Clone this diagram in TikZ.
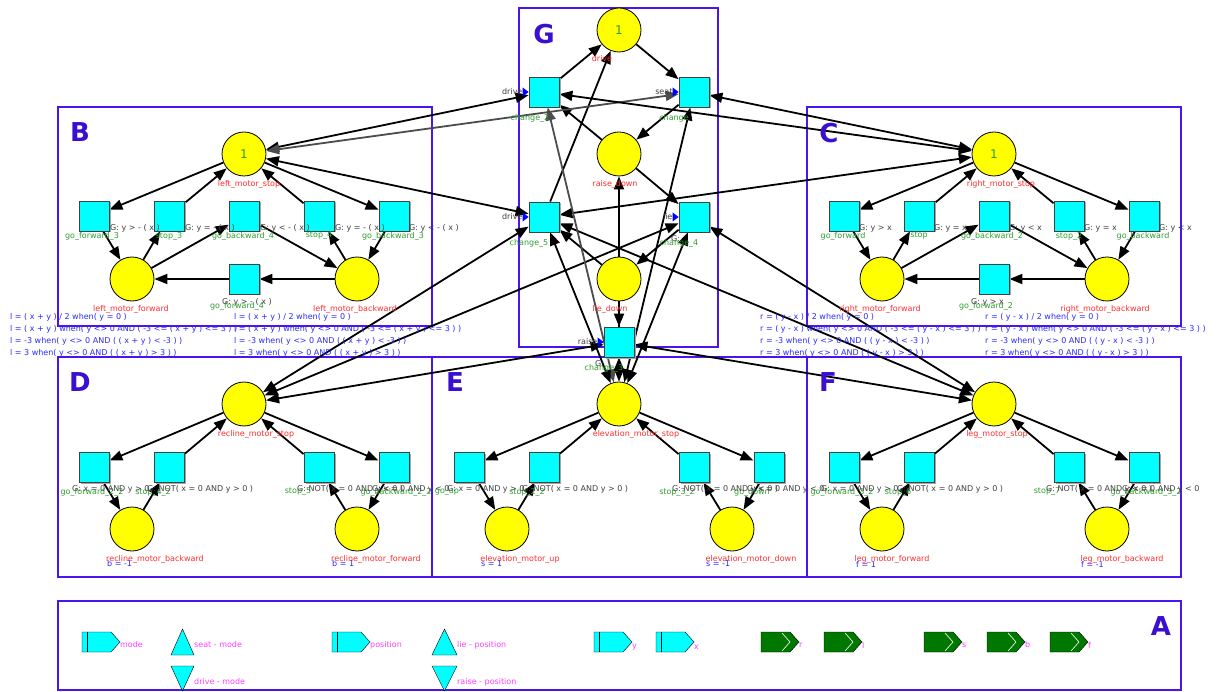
\documentclass[tikz,border=0pt]{standalone}
\usepackage{fontspec}
\setmainfont{DejaVu Sans}
\usepackage{tikz}
\usetikzlibrary{arrows.meta,backgrounds,shadows}

\definecolor{boxblue}{HTML}{4A14EE}
\definecolor{letterblue}{HTML}{3A0FD0}
\definecolor{tokgreen}{HTML}{2E9A2E}
\definecolor{namegreen}{HTML}{2F9F2F}
\definecolor{namered}{HTML}{FF2E2E}
\definecolor{formblue}{HTML}{2A2AFF}
\definecolor{legpink}{HTML}{FF40FF}
\definecolor{portgreen}{HTML}{007800}
\definecolor{transcyan}{HTML}{00FFFF}
\definecolor{placeyellow}{HTML}{FFFF00}
\definecolor{markblue}{HTML}{0000FF}

\tikzset{
  every node/.style={font=\fontsize{8}{9.6}\selectfont},
  place/.style={circle, draw=black, line width=0.8pt, fill=placeyellow, minimum size=44pt, inner sep=0pt, font=\fontsize{12}{12}\selectfont, text=tokgreen},
  trans/.style={rectangle, draw=black!75, line width=0.8pt, fill=transcyan, minimum size=30pt, inner sep=0pt,
    drop shadow={shadow xshift=1.5pt, shadow yshift=-1.5pt, fill=black!35, opacity=1}},
  pname/.style={text=namered, inner sep=0pt},
  tname/.style={text=namegreen, inner sep=0pt},
  guard/.style={text=black!75, anchor=west, inner sep=0pt},
  formula/.style={text=formblue, anchor=west, inner sep=0pt},
  legend/.style={text=legpink, anchor=west, inner sep=0pt},
  portname/.style={text=black!75, anchor=east, inner sep=0pt},
  region/.style={draw=boxblue, line width=2pt},
  boxletter/.style={text=letterblue, font=\fontsize{26}{26}\selectfont\bfseries, inner sep=0pt},
  arc/.style={-{Triangle[length=13pt,width=10pt]}, line width=1.8pt},
  readarc/.style={{Triangle[length=13pt,width=10pt]}-{Triangle[length=13pt,width=10pt]}, line width=1.8pt},
}

\begin{document}
\begin{tikzpicture}[x=1pt, y=-1pt]
      \useasboundingbox (0,0) rectangle (1220,692);

      \node[place] (drive) at (619,30) {1};
      \node[place] (raisedown) at (619,154) {};
      \node[place] (liedown) at (619,279) {};
      \node[trans] (change2) at (544,92) {};
      \node[trans] (change) at (694,92) {};
      \node[trans] (change5) at (544,217) {};
      \node[trans] (change4) at (694,217) {};
      \node[trans] (change3) at (619,342) {};

      \node[place] (lstop) at (244,154) {1};
      \node[place] (lfwd) at (132,279) {};
      \node[place] (lbwd) at (357,279) {};
      \node[trans] (gofwd3) at (94,216) {};
      \node[trans] (stop3) at (169,216) {};
      \node[trans] (gobwd4) at (244,216) {};
      \node[trans] (stop4) at (319,216) {};
      \node[trans] (gobwd3) at (394,216) {};
      \node[trans] (gofwd4) at (244,279) {};

      \node[place] (rstop) at (994,154) {1};
      \node[place] (rfwd) at (882,279) {};
      \node[place] (rbwd) at (1107,279) {};
      \node[trans] (gofwd) at (844,216) {};
      \node[trans] (stop1) at (919,216) {};
      \node[trans] (gobwd2) at (994,216) {};
      \node[trans] (stop2) at (1069,216) {};
      \node[trans] (gobwd) at (1144,216) {};
      \node[trans] (gofwd2) at (994,279) {};

      \node[place] (bstop) at (244,404) {};
      \node[place] (bbwd) at (132,529) {};
      \node[place] (bfwd) at (357,529) {};
      \node[trans] (gofwd22) at (94,467) {};
      \node[trans] (stop42) at (169,467) {};
      \node[trans] (stop5) at (319,467) {};
      \node[trans] (gobwd22) at (394,467) {};

      \node[place] (sstop) at (619,404) {};
      \node[place] (sup) at (507,529) {};
      \node[place] (sdown) at (732,529) {};
      \node[trans] (goup) at (469,467) {};
      \node[trans] (stop22) at (544,467) {};
      \node[trans] (stop32) at (694,467) {};
      \node[trans] (godown) at (769,467) {};

      \node[place] (fstop) at (994,404) {};
      \node[place] (ffwd) at (882,529) {};
      \node[place] (fbwd) at (1107,529) {};
      \node[trans] (gofwd32) at (844,467) {};
      \node[trans] (stop6) at (919,467) {};
      \node[trans] (stop7) at (1069,467) {};
      \node[trans] (gobwd32) at (1144,467) {};

      \fill[markblue] (change2.west) ++(-6,-4.5) -- ++(6,4.5) -- ++(-6,4.5) -- cycle;
      \fill[markblue] (change.west) ++(-6,-4.5) -- ++(6,4.5) -- ++(-6,4.5) -- cycle;
      \fill[markblue] (change5.west) ++(-6,-4.5) -- ++(6,4.5) -- ++(-6,4.5) -- cycle;
      \fill[markblue] (change4.west) ++(-6,-4.5) -- ++(6,4.5) -- ++(-6,4.5) -- cycle;
      \fill[markblue] (change3.west) ++(-6,-4.5) -- ++(6,4.5) -- ++(-6,4.5) -- cycle;
      \node[portname] (change2-p) at ([xshift=-6pt]change2.west) {drive};
      \node[portname] (change-p) at ([xshift=-6pt]change.west) {seat};
      \node[portname] (change5-p) at ([xshift=-6pt]change5.west) {drive};
      \node[portname] (change4-p) at ([xshift=-6pt]change4.west) {lie};
      \node[portname] (change3-p) at ([xshift=-6pt]change3.west) {raise};

      \node[pname] (drive-n) at (602,59) {drive};
      \node[pname] (raisedown-n) at (615,184) {raise\_down};
      \node[pname] (liedown-n) at (610,309) {lie\_down};
      \node[tname] (change2-n) at (530,118) {change\_2};
      \node[tname] (change-n) at (674,118) {change};
      \node[tname] (change5-n) at (529,243) {change\_5};
      \node[tname] (change4-n) at (679,243) {change\_4};
      \node[tname] (change3-n) at (604,368) {change\_3};
      \node[guard] (change4-g) at (671,239) {G:};
      \node[guard] (change3-g) at (595,364) {G:};

      \node[pname] (lstop-n) at (249,184) {left\_motor\_stop};
      \node[pname] (lfwd-n) at (131,309) {left\_motor\_forward};
      \node[pname] (lbwd-n) at (355,309) {left\_motor\_backward};
      \node[tname] (gofwd3-n) at (92,236) {go\_forward\_3};
      \node[tname] (stop3-n) at (169,236) {stop\_3};
      \node[tname] (gobwd4-n) at (243,236) {go\_backward\_4};
      \node[tname] (stop4-n) at (319,236) {stop\_4};
      \node[tname] (gobwd3-n) at (393,236) {go\_backward\_3};
      \node[tname] (gofwd4-n) at (237,306) {go\_forward\_4};
      \node[guard] (gofwd3-g) at (110,228) {G: y > - ( x )};
      \node[guard] (stop3-g) at (185,228) {G: y = - ( x )};
      \node[guard] (gobwd4-g) at (260,228) {G: y < - ( x )};
      \node[guard] (stop4-g) at (335,228) {G: y = - ( x )};
      \node[guard] (gobwd3-g) at (409,228) {G: y < - ( x )};
      \node[guard] (gofwd4-g) at (222,302) {G: y > - ( x )};

      \node[pname] (rstop-n) at (1001,184) {right\_motor\_stop};
      \node[pname] (rfwd-n) at (880,309) {right\_motor\_forward};
      \node[pname] (rbwd-n) at (1105,309) {right\_motor\_backward};
      \node[tname] (gofwd-n) at (843,236) {go\_forward};
      \node[tname] (stop1-n) at (919,236) {stop};
      \node[tname] (gobwd2-n) at (992,236) {go\_backward\_2};
      \node[tname] (stop2-n) at (1069,236) {stop\_2};
      \node[tname] (gobwd-n) at (1143,236) {go\_backward};
      \node[tname] (gofwd2-n) at (986,306) {go\_forward\_2};
      \node[guard] (gofwd-g) at (859,228) {G: y > x};
      \node[guard] (stop1-g) at (934,228) {G: y = x};
      \node[guard] (gobwd2-g) at (1009,228) {G: y < x};
      \node[guard] (stop2-g) at (1084,228) {G: y = x};
      \node[guard] (gobwd-g) at (1159,228) {G: y < x};
      \node[guard] (gofwd2-g) at (971,302) {G: y > x};

      \node[formula] (lfwd-f1) at (10,317) {l = ( x + y ) / 2 when( y = 0 )};
      \node[formula] (lfwd-f2) at (10,329) {l = ( x + y ) when( y <> 0 AND ( -3 <= ( x + y ) <= 3 ) )};
      \node[formula] (lfwd-f3) at (10,341) {l = -3 when( y <> 0 AND ( ( x + y ) < -3 ) )};
      \node[formula] (lfwd-f4) at (10,353) {l = 3 when( y <> 0 AND ( ( x + y ) > 3 ) )};
      \node[formula] (lbwd-f1) at (234,317) {l = ( x + y ) / 2 when( y = 0 )};
      \node[formula] (lbwd-f2) at (234,329) {l = ( x + y ) when( y <> 0 AND ( -3 <= ( x + y ) <= 3 ) )};
      \node[formula] (lbwd-f3) at (234,341) {l = -3 when( y <> 0 AND ( ( x + y ) < -3 ) )};
      \node[formula] (lbwd-f4) at (234,353) {l = 3 when( y <> 0 AND ( ( x + y ) > 3 ) )};
      \node[formula] (rfwd-f1) at (760,317) {r = ( y - x ) / 2 when( y = 0 )};
      \node[formula] (rfwd-f2) at (760,329) {r = ( y - x ) when( y <> 0 AND ( -3 <= ( y - x ) <= 3 ) )};
      \node[formula] (rfwd-f3) at (760,341) {r = -3 when( y <> 0 AND ( ( y - x ) < -3 ) )};
      \node[formula] (rfwd-f4) at (760,353) {r = 3 when( y <> 0 AND ( ( y - x ) > 3 ) )};
      \node[formula] (rbwd-f1) at (985,317) {r = ( y - x ) / 2 when( y = 0 )};
      \node[formula] (rbwd-f2) at (985,329) {r = ( y - x ) when( y <> 0 AND ( -3 <= ( y - x ) <= 3 ) )};
      \node[formula] (rbwd-f3) at (985,341) {r = -3 when( y <> 0 AND ( ( y - x ) < -3 ) )};
      \node[formula] (rbwd-f4) at (985,353) {r = 3 when( y <> 0 AND ( ( y - x ) > 3 ) )};

      \node[pname] (bstop-n) at (256,434) {recline\_motor\_stop};
      \node[pname] (bbwd-n) at (155,559) {recline\_motor\_backward};
      \node[pname] (bfwd-n) at (376,559) {recline\_motor\_forward};
      \node[tname] (gofwd22-n) at (92,492) {go\_forward\_2\_2};
      \node[tname] (stop42-n) at (153,492) {stop\_4\_2};
      \node[tname] (stop5-n) at (298,492) {stop\_5};
      \node[tname] (gobwd22-n) at (396,492) {go\_backward\_2\_2};
      \node[guard] (gofwd22-g) at (72,489) {G: x = 0 AND y > 0};
      \node[guard] (stop42-g) at (147,489) {G: NOT( x = 0 AND y > 0 )};
      \node[guard] (stop5-g) at (297,489) {G: NOT( x = 0 AND y < 0 )};
      \node[guard] (gobwd22-g) at (372,489) {G: x = 0 AND y < 0};
      \node[formula] (bbwd-f) at (107,564) {b = -1};
      \node[formula] (bfwd-f) at (332,564) {b = 1};

      \node[pname] (sstop-n) at (636,434) {elevation\_motor\_stop};
      \node[pname] (sup-n) at (520,559) {elevation\_motor\_up};
      \node[pname] (sdown-n) at (751,559) {elevation\_motor\_down};
      \node[tname] (goup-n) at (447,492) {go\_up};
      \node[tname] (stop22-n) at (527,492) {stop\_2\_2};
      \node[tname] (stop32-n) at (677,492) {stop\_3\_2};
      \node[tname] (godown-n) at (752,492) {go\_down};
      \node[guard] (goup-g) at (447,489) {G: x = 0 AND y > 0};
      \node[guard] (stop22-g) at (522,489) {G: NOT( x = 0 AND y > 0 )};
      \node[guard] (stop32-g) at (672,489) {G: NOT( x = 0 AND y < 0 )};
      \node[guard] (godown-g) at (747,489) {G: x = 0 AND y < 0};
      \node[formula] (sup-f) at (481,564) {s = 1};
      \node[formula] (sdown-f) at (706,564) {s = -1};

      \node[pname] (fstop-n) at (997,434) {leg\_motor\_stop};
      \node[pname] (ffwd-n) at (892,559) {leg\_motor\_forward};
      \node[pname] (fbwd-n) at (1122,559) {leg\_motor\_backward};
      \node[tname] (gofwd32-n) at (842,492) {go\_forward\_3\_2};
      \node[tname] (stop6-n) at (898,492) {stop\_6};
      \node[tname] (stop7-n) at (1047,492) {stop\_7};
      \node[tname] (gobwd32-n) at (1146,492) {go\_backward\_3\_2};
      \node[guard] (gofwd32-g) at (821,489) {G: x = 0 AND y > 0};
      \node[guard] (stop6-g) at (897,489) {G: NOT( x = 0 AND y > 0 )};
      \node[guard] (stop7-g) at (1046,489) {G: NOT( x = 0 AND y < 0 )};
      \node[guard] (gobwd32-g) at (1122,489) {G: x = 0 AND y < 0};
      \node[formula] (ffwd-f) at (856,564) {f = 1};
      \node[formula] (fbwd-f) at (1081,564) {f = -1};

      \node[boxletter] (boxG) at (544,34) {G};
      \node[boxletter] (boxB) at (80,132) {B};
      \node[boxletter] (boxC) at (829,133) {C};
      \node[boxletter] (boxD) at (80,382) {D};
      \node[boxletter] (boxE) at (455,382) {E};
      \node[boxletter] (boxF) at (828,382) {F};
      \node[boxletter] (boxA) at (1161,626) {A};

      \draw[fill=transcyan] (82,632) -- (111,632) -- (120,642) -- (111,652) -- (82,652) -- cycle;
      \draw (87,632) -- (87,652);
      \draw[fill=transcyan] (332,632) -- (361,632) -- (370,642) -- (361,652) -- (332,652) -- cycle;
      \draw (337,632) -- (337,652);
      \draw[fill=transcyan] (594,632) -- (623,632) -- (632,642) -- (623,652) -- (594,652) -- cycle;
      \draw (599,632) -- (599,652);
      \draw[fill=transcyan] (656,632) -- (685,632) -- (694,642) -- (685,652) -- (656,652) -- cycle;
      \draw (661,632) -- (661,652);
      \draw[fill=transcyan] (171,655) -- (194,655) -- (182.5,629) -- cycle;
      \draw[fill=transcyan] (171,666) -- (194,666) -- (182.5,691) -- cycle;
      \draw[fill=transcyan] (432,655) -- (457,655) -- (444.5,629) -- cycle;
      \draw[fill=transcyan] (432,666) -- (457,666) -- (444.5,691) -- cycle;
      \draw[fill=portgreen] (761,632) -- (790,632) -- (799,642) -- (790,652) -- (761,652) -- cycle;
      \draw[white, line width=0.6pt] (782,633) -- (790,642) -- (782,651);
      \draw[fill=portgreen] (824,632) -- (853,632) -- (862,642) -- (853,652) -- (824,652) -- cycle;
      \draw[white, line width=0.6pt] (845,633) -- (853,642) -- (845,651);
      \draw[fill=portgreen] (924,632) -- (953,632) -- (962,642) -- (953,652) -- (924,652) -- cycle;
      \draw[white, line width=0.6pt] (945,633) -- (953,642) -- (945,651);
      \draw[fill=portgreen] (987,632) -- (1016,632) -- (1025,642) -- (1016,652) -- (987,652) -- cycle;
      \draw[white, line width=0.6pt] (1008,633) -- (1016,642) -- (1008,651);
      \draw[fill=portgreen] (1050,632) -- (1079,632) -- (1088,642) -- (1079,652) -- (1050,652) -- cycle;
      \draw[white, line width=0.6pt] (1071,633) -- (1079,642) -- (1071,651);

      \node[legend] (leg-mode) at (120,645) {mode};
      \node[legend] (leg-seat) at (194,645) {seat - mode};
      \node[legend] (leg-drive) at (194,682) {drive - mode};
      \node[legend] (leg-pos) at (370,645) {position};
      \node[legend] (leg-lie) at (457,645) {lie - position};
      \node[legend] (leg-raise) at (457,682) {raise - position};
      \node[legend] (leg-y) at (632,647) {y};
      \node[legend] (leg-x) at (694,647) {x};
      \node[legend] (leg-r) at (799,645) {r};
      \node[legend] (leg-l) at (862,645) {l};
      \node[legend] (leg-s) at (962,645) {s};
      \node[legend] (leg-b) at (1025,645) {b};
      \node[legend] (leg-f) at (1088,645) {f};

      \begin{pgfonlayer}{background}
      \fill[white] (0,0) rectangle (1220,692);
      \draw[region] (519,8) rectangle (718,347);
      \draw[region] (58,107) rectangle (432,326);
      \draw[region] (807,107) rectangle (1181,326);
      \draw[region] (58,357) rectangle (432,577);
      \draw[region] (432,357) rectangle (807,577);
      \draw[region] (807,357) rectangle (1181,577);
      \draw[region] (58,601) rectangle (1181,690);

      \draw[arc] (drive) -- (change);
      \draw[arc] (change2) -- (drive);
      \draw[arc] (change5) -- (drive);
      \draw[arc] (change) -- (raisedown);
      \draw[arc] (raisedown) -- (change2);
      \draw[arc] (raisedown) -- (change4);
      \draw[arc] (change4) -- (liedown);
      \draw[arc] (liedown) -- (change5);
      \draw[arc] (liedown) -- (change3);
      \draw[arc] (change3) -- (raisedown);

      \draw[readarc] (change2) -- (lstop);
      \draw[readarc, black!70] (change) -- (lstop);
      \draw[readarc] (change2) -- (rstop);
      \draw[readarc] (change) -- (rstop);
      \draw[readarc] (change5) -- (lstop);
      \draw[readarc] (change5) -- (rstop);
      \draw[readarc] (change5) -- (bstop);
      \draw[readarc] (change4) -- (bstop);
      \draw[readarc] (change3) -- (bstop);
      \draw[readarc] (change5) -- (fstop);
      \draw[readarc] (change4) -- (fstop);
      \draw[readarc] (change3) -- (fstop);
      \draw[readarc, black!70] (change2) -- (sstop);
      \draw[readarc] (change) -- (sstop);
      \draw[readarc] (change5) -- (sstop);
      \draw[readarc] (change4) -- (sstop);
      \draw[readarc] (change3) -- (sstop);

      \draw[arc] (lstop) -- (gofwd3);
      \draw[arc] (gofwd3) -- (lfwd);
      \draw[arc] (lfwd) -- (stop3);
      \draw[arc] (stop3) -- (lstop);
      \draw[arc] (lfwd) -- (gobwd4);
      \draw[arc] (gobwd4) -- (lbwd);
      \draw[arc] (lbwd) -- (gofwd4);
      \draw[arc] (gofwd4) -- (lfwd);
      \draw[arc] (lbwd) -- (stop4);
      \draw[arc] (stop4) -- (lstop);
      \draw[arc] (lstop) -- (gobwd3);
      \draw[arc] (gobwd3) -- (lbwd);

      \draw[arc] (rstop) -- (gofwd);
      \draw[arc] (gofwd) -- (rfwd);
      \draw[arc] (rfwd) -- (stop1);
      \draw[arc] (stop1) -- (rstop);
      \draw[arc] (rfwd) -- (gobwd2);
      \draw[arc] (gobwd2) -- (rbwd);
      \draw[arc] (rbwd) -- (gofwd2);
      \draw[arc] (gofwd2) -- (rfwd);
      \draw[arc] (rbwd) -- (stop2);
      \draw[arc] (stop2) -- (rstop);
      \draw[arc] (rstop) -- (gobwd);
      \draw[arc] (gobwd) -- (rbwd);

      \draw[arc] (bstop) -- (gofwd22);
      \draw[arc] (gofwd22) -- (bbwd);
      \draw[arc] (bbwd) -- (stop42);
      \draw[arc] (stop42) -- (bstop);
      \draw[arc] (bfwd) -- (stop5);
      \draw[arc] (stop5) -- (bstop);
      \draw[arc] (bstop) -- (gobwd22);
      \draw[arc] (gobwd22) -- (bfwd);

      \draw[arc] (sstop) -- (goup);
      \draw[arc] (goup) -- (sup);
      \draw[arc] (sup) -- (stop22);
      \draw[arc] (stop22) -- (sstop);
      \draw[arc] (sdown) -- (stop32);
      \draw[arc] (stop32) -- (sstop);
      \draw[arc] (sstop) -- (godown);
      \draw[arc] (godown) -- (sdown);

      \draw[arc] (fstop) -- (gofwd32);
      \draw[arc] (gofwd32) -- (ffwd);
      \draw[arc] (ffwd) -- (stop6);
      \draw[arc] (stop6) -- (fstop);
      \draw[arc] (fbwd) -- (stop7);
      \draw[arc] (stop7) -- (fstop);
      \draw[arc] (fstop) -- (gobwd32);
      \draw[arc] (gobwd32) -- (fbwd);
      \end{pgfonlayer}
    \end{tikzpicture}
\end{document}
